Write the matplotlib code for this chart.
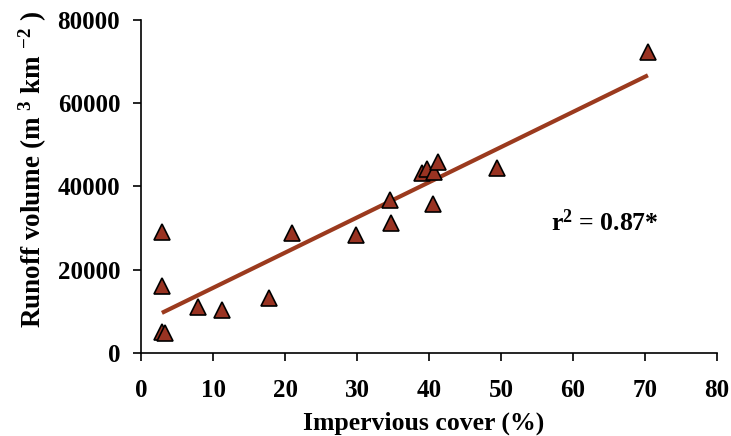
import numpy as np
import matplotlib.pyplot as plt

plt.rcParams['font.family'] = ['Liberation Serif', 'DejaVu Serif']
plt.rcParams['font.weight'] = 'bold'
plt.rcParams['mathtext.fontset'] = 'custom'
plt.rcParams['mathtext.rm'] = 'Liberation Serif:bold'
plt.rcParams['mathtext.it'] = 'Liberation Serif:bold'
plt.rcParams['mathtext.bf'] = 'Liberation Serif:bold'

# impervious cover (%) and runoff volume (m3 km-2)
impervious = [2.9, 2.9, 2.9, 3.3, 7.9, 11.2, 17.8, 21.0, 29.9, 34.7, 34.6,
              39.0, 39.7, 40.7, 41.3, 40.6, 49.4, 70.4]
runoff = [29000, 16100, 5000, 4800, 11000, 10300, 13200, 28800, 28300, 31200,
          36800, 43200, 44200, 43500, 45900, 35800, 44400, 72300]
r2_label = r'r$^{2}$ = 0.87*'

x = np.array(impervious)
y = np.array(runoff)
slope, intercept = np.polyfit(x, y, 1)
xl = np.array([x.min(), x.max()])

fig = plt.figure(figsize=(7.31, 4.36), dpi=100)
ax = fig.add_axes([0.1929, 0.1904, 0.788, 0.7638])

ax.plot(xl, slope * xl + intercept, color='#9b3a1e', lw=3, solid_capstyle='butt', zorder=2)
ax.plot(x, y, linestyle='none', marker='^', markersize=11.5, markerfacecolor='#993322',
        markeredgecolor='black', markeredgewidth=1.2, zorder=3)

ax.set_xlim(0, 80)
ax.set_ylim(0, 80000)
ax.set_xticks(np.arange(0, 81, 10))
ax.set_yticks(np.arange(0, 80001, 20000))
ax.spines['top'].set_visible(False)
ax.spines['right'].set_visible(False)
for s in ('left', 'bottom'):
    ax.spines[s].set_linewidth(1.2)
ax.tick_params(direction='out', width=1.2, labelsize=18)
ax.tick_params(axis='x', length=5.5, pad=13)
ax.tick_params(axis='y', length=6, pad=9)

ax.set_xlabel('Impervious cover (%)', fontsize=18.5, fontweight='bold', va='center')
ax.xaxis.set_label_coords(0.491, -0.21)
ax.set_ylabel(r'Runoff volume (m $^{3}$ km $^{-2}$ )', fontsize=19.5, fontweight='bold',
              va='center', ha='center')
ax.yaxis.set_label_coords(-0.187, 0.55)

ax.text(57.0, 31400, r2_label, fontsize=18.5, fontweight='bold', ha='left', va='center')

fig.savefig('out.png', dpi=100)
